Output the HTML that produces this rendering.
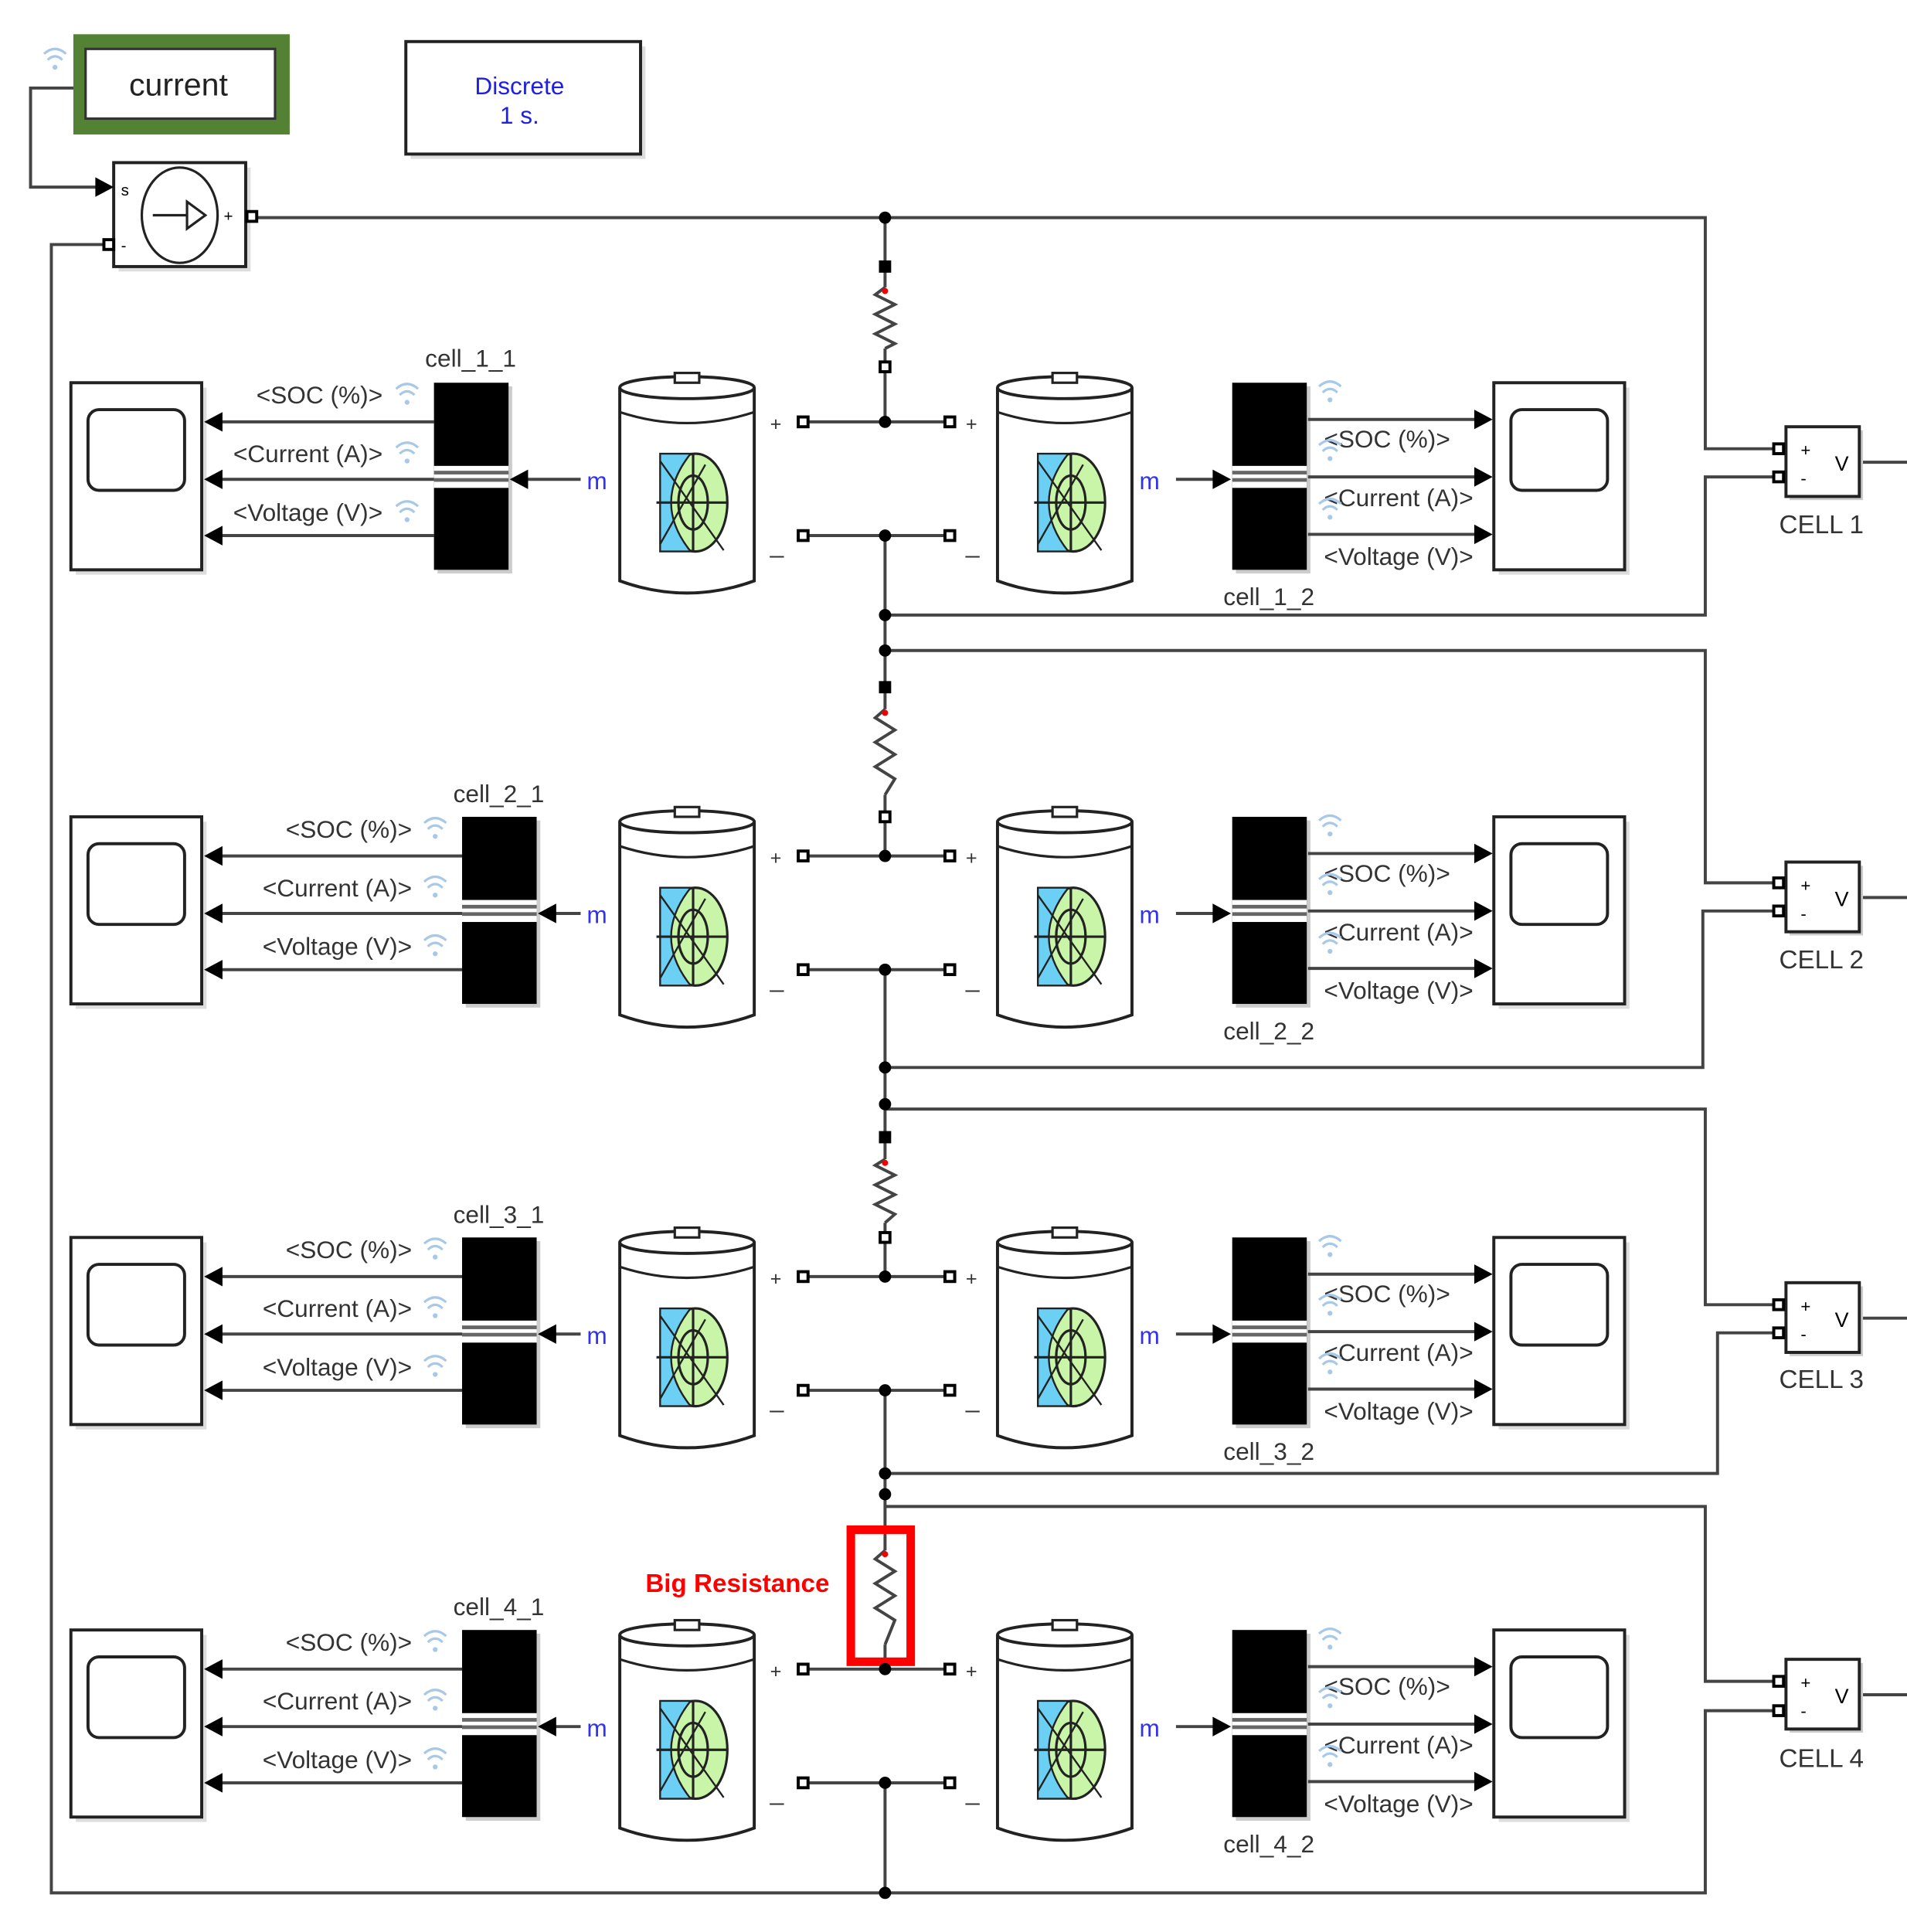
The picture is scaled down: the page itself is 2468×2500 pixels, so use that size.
<!DOCTYPE html>
<html><head><meta charset="utf-8">
<style>
html,body{margin:0;padding:0;background:#fff;}
svg{display:block;}
text{font-family:"Liberation Sans",sans-serif;}
</style></head>
<body>
<svg width="2468" height="2500" viewBox="0 0 1560 1580" preserveAspectRatio="none" xmlns="http://www.w3.org/2000/svg">
<defs>
<g id="scope">
  <rect x="4" y="4" width="107" height="153" fill="#ddd"/>
  <rect x="0" y="0" width="107" height="153" fill="#fff" stroke="#222" stroke-width="2.5"/>
  <rect x="14" y="22" width="79" height="66" rx="9" fill="#fff" stroke="#222" stroke-width="2.5"/>
</g>
<g id="bus">
  <rect x="3" y="3" width="61" height="153" fill="#ccc"/>
  <rect x="0" y="0" width="61" height="153" fill="#000"/>
  <rect x="0" y="68" width="61" height="18" fill="#fff"/>
  <rect x="0" y="72" width="61" height="3" fill="#666"/>
  <rect x="0" y="78" width="61" height="3" fill="#666"/>
</g>
<g id="batt">
  <path d="M0,12 L0,170 Q55,190 110,170 L110,12" fill="#fff" stroke="#222" stroke-width="2.5"/>
  <ellipse cx="55" cy="12" rx="55" ry="9" fill="#fff" stroke="#222" stroke-width="2.5"/>
  <rect x="45" y="0" width="20" height="8" fill="#fff" stroke="#222" stroke-width="2"/>
  <path d="M0,32 Q55,50 110,32" fill="none" stroke="#222" stroke-width="2"/>
  <ellipse cx="62" cy="106" rx="26" ry="40" fill="#c8f5a8" stroke="#222" stroke-width="2"/>
  <path d="M33,66 L33,146 L58,146 Q42,126 42,106 Q42,86 58,66 Z" fill="#6cd0f5" stroke="#222" stroke-width="1.5"/>
  <ellipse cx="60" cy="106" rx="12" ry="22" fill="none" stroke="#222" stroke-width="2"/>
  <line x1="60" y1="66" x2="60" y2="146" stroke="#222" stroke-width="2"/>
  <line x1="30" y1="106" x2="88" y2="106" stroke="#222" stroke-width="2"/>
  <line x1="33" y1="72" x2="85" y2="145" stroke="#222" stroke-width="1.5"/>
  <line x1="33" y1="140" x2="70" y2="75" stroke="#222" stroke-width="1.5"/>
</g>
<g id="wl" fill="none" stroke="#a8c8e8" stroke-width="2">
  <path d="M-9,-6 Q0,-14 9,-6"/><path d="M-6,-1 Q0,-7 6,-1"/><circle cx="0" cy="5" r="2" fill="#a8c8e8" stroke="none"/>
</g>
<g id="cellv">
  <rect x="3" y="3" width="60" height="57" fill="#ccc"/>
  <rect x="0" y="0" width="60" height="57" fill="#fff" stroke="#222" stroke-width="2.5"/>
  <text x="12" y="24" font-size="14">+</text>
  <text x="12" y="47" font-size="14">-</text>
  <text x="40" y="36" font-size="17">V</text>
</g>
<g id="pt"><rect x="-4" y="-4" width="8" height="8" fill="#fff" stroke="#000" stroke-width="2.5"/></g>
</defs>

<g stroke="#444" stroke-width="2.5" fill="none">
  <polyline points="62,72 25,72 25,153 80,153"/>
  <polyline points="93,200 42,200 42,1548 1395,1548 1395,1399 1455,1399"/>
  <polyline points="205,178 1395,178 1395,367 1455,367"/>
  <polyline points="724,503 1395,503 1395,390 1455,390"/>
  <polyline points="724,532 1395,532 1395,722 1455,722"/>
  <polyline points="724,873 1393,873 1393,745 1455,745"/>
  <polyline points="724,907 1395,907 1395,1067 1455,1067"/>
  <polyline points="724,1205 1405,1205 1405,1090 1455,1090"/>
  <polyline points="724,1232 1395,1232 1395,1375 1455,1375"/>
  <line x1="724" y1="178" x2="724" y2="235"/><line x1="724" y1="285" x2="724" y2="345"/>
  <line x1="724" y1="438" x2="724" y2="580"/><line x1="724" y1="650" x2="724" y2="700"/>
  <line x1="724" y1="793" x2="724" y2="948"/><line x1="724" y1="1000" x2="724" y2="1044"/>
  <line x1="724" y1="1137" x2="724" y2="1268"/><line x1="724" y1="1345" x2="724" y2="1365"/>
  <line x1="724" y1="1458" x2="724" y2="1548"/>
  <polyline points="724,235 716,241 732,249 716,257 732,265 716,273 732,281 724,285"/>
  <polyline points="724,580 716,587 732,597 716,607 732,617 716,627 732,637 724,650"/>
  <polyline points="724,948 716,953 732,961 716,969 732,977 716,985 732,993 724,1000"/>
  <polyline points="724,1268 716,1275 732,1285 716,1295 732,1305 716,1315 732,1325 724,1345"/>
  <line x1="1521" y1="378" x2="1560" y2="378"/><line x1="1521" y1="734" x2="1560" y2="734"/>
  <line x1="1521" y1="1078" x2="1560" y2="1078"/><line x1="1521" y1="1386" x2="1560" y2="1386"/>
</g>
<g fill="#e00"><circle cx="724" cy="238" r="2.5"/><circle cx="724" cy="583" r="2.5"/><circle cx="724" cy="951" r="2.5"/><circle cx="724" cy="1271" r="2.5"/></g>
<g fill="#000">
  <rect x="719" y="213" width="10" height="10"/><rect x="719" y="557" width="10" height="10"/><rect x="719" y="925" width="10" height="10"/>
  <circle cx="724" cy="178" r="5"/><circle cx="724" cy="503" r="5"/><circle cx="724" cy="532" r="5"/>
  <circle cx="724" cy="873" r="5"/><circle cx="724" cy="903" r="5"/><circle cx="724" cy="1205" r="5"/><circle cx="724" cy="1222" r="5"/><circle cx="724" cy="1548" r="5"/>
</g>
<use href="#pt" x="724" y="300"/><use href="#pt" x="724" y="668"/><use href="#pt" x="724" y="1012"/>

<rect x="696" y="1251" width="49" height="108" fill="none" stroke="#f00" stroke-width="7"/>
<text x="528" y="1302" font-size="21" font-weight="bold" fill="#f00" font-family="DejaVu Sans,sans-serif">Big Resistance</text>

<use href="#wl" x="45" y="50"/>
<rect x="60" y="28" width="177" height="82" fill="#548235"/>
<rect x="70" y="40" width="155" height="57" fill="#fff" stroke="#333" stroke-width="2"/>
<text x="146" y="78" font-size="26" text-anchor="middle" fill="#222">current</text>
<rect x="336" y="38" width="192" height="92" fill="#ddd"/>
<rect x="332" y="34" width="192" height="92" fill="#fff" stroke="#222" stroke-width="2.5"/>
<text x="425" y="77" font-size="20" text-anchor="middle" fill="#2020e0">Discrete</text>
<text x="425" y="101" font-size="20" text-anchor="middle" fill="#2020e0">1 s.</text>
<rect x="97" y="137" width="108" height="85" fill="#ddd"/>
<rect x="93" y="133" width="108" height="85" fill="#fff" stroke="#222" stroke-width="2.5"/>
<ellipse cx="147" cy="176" rx="31" ry="39" fill="none" stroke="#222" stroke-width="2"/>
<line x1="125" y1="176" x2="153" y2="176" stroke="#222" stroke-width="2"/>
<path d="M153,165 L168,176 L153,187 Z" fill="#fff" stroke="#222" stroke-width="2"/>
<text x="99" y="160" font-size="13">s</text><text x="183" y="181" font-size="13">+</text><text x="99" y="205" font-size="13">-</text>
<path d="M78,145 L93,153 L78,161 Z" fill="#000"/>
<use href="#pt" x="206" y="177"/><use href="#pt" x="89" y="200"/>

<use href="#cellv" x="1461" y="349"/><use href="#cellv" x="1461" y="705"/><use href="#cellv" x="1461" y="1049"/><use href="#cellv" x="1461" y="1357"/>
<use href="#pt" x="1455" y="367"/><use href="#pt" x="1455" y="390"/>
<use href="#pt" x="1455" y="722"/><use href="#pt" x="1455" y="745"/>
<use href="#pt" x="1455" y="1067"/><use href="#pt" x="1455" y="1090"/>
<use href="#pt" x="1455" y="1375"/><use href="#pt" x="1455" y="1399"/>
<g font-size="21" fill="#333" text-anchor="middle">
<text x="1490" y="436">CELL 1</text><text x="1490" y="792">CELL 2</text><text x="1490" y="1135">CELL 3</text><text x="1490" y="1445">CELL 4</text>
</g>

<!-- ROW 1 -->
<g>
<use href="#scope" x="58" y="313"/><use href="#bus" x="355" y="313"/>
<use href="#batt" x="507" y="305"/><use href="#batt" x="816" y="305"/>
<use href="#bus" x="1008" y="313"/><use href="#scope" x="1222" y="313"/>
<g stroke="#444" stroke-width="2.5">
<line x1="355" y1="345" x2="180" y2="345"/><line x1="355" y1="392" x2="180" y2="392"/><line x1="355" y1="438" x2="180" y2="438"/>
<line x1="475" y1="392" x2="430" y2="392"/><line x1="962" y1="392" x2="995" y2="392"/>
<line x1="1070" y1="343" x2="1208" y2="343"/><line x1="1070" y1="390" x2="1208" y2="390"/><line x1="1070" y1="437" x2="1208" y2="437"/>
<line x1="661" y1="345" x2="773" y2="345"/><line x1="661" y1="438" x2="773" y2="438"/>
</g>
<g fill="#000">
<path d="M167,345 L182,337 L182,353Z"/><path d="M167,392 L182,384 L182,400Z"/><path d="M167,438 L182,430 L182,446Z"/>
<path d="M417,392 L432,384 L432,400Z"/><path d="M1007,392 L992,384 L992,400Z"/>
<path d="M1221,343 L1206,335 L1206,351Z"/><path d="M1221,390 L1206,382 L1206,398Z"/><path d="M1221,437 L1206,429 L1206,445Z"/>
<circle cx="724" cy="345" r="5"/><circle cx="724" cy="438" r="5"/>
</g>
<use href="#pt" x="657" y="345"/><use href="#pt" x="777" y="345"/><use href="#pt" x="657" y="438"/><use href="#pt" x="777" y="438"/>
<g font-size="20" fill="#333">
<text x="313" y="330" text-anchor="end">&lt;SOC (%)&gt;</text><text x="313" y="378" text-anchor="end">&lt;Current (A)&gt;</text><text x="313" y="426" text-anchor="end">&lt;Voltage (V)&gt;</text>
<text x="1083" y="366">&lt;SOC (%)&gt;</text><text x="1083" y="414">&lt;Current (A)&gt;</text><text x="1083" y="462">&lt;Voltage (V)&gt;</text>
<text x="385" y="300" text-anchor="middle">cell_1_1</text><text x="1038" y="495" text-anchor="middle">cell_1_2</text>
<text x="630" y="352" font-size="16">+</text><text x="790" y="352" font-size="16">+</text><text x="630" y="452">_</text><text x="790" y="452">_</text>
</g>
<text x="480" y="400" font-size="20" fill="#3333ee">m</text><text x="932" y="400" font-size="20" fill="#3333ee">m</text>
<use href="#wl" x="333" y="324"/><use href="#wl" x="333" y="372"/><use href="#wl" x="333" y="420"/>
<use href="#wl" x="1088" y="322"/><use href="#wl" x="1088" y="370"/><use href="#wl" x="1088" y="418"/>
</g>

<!-- ROW 2 -->
<g>
<use href="#scope" x="58" y="668"/><use href="#bus" x="378" y="668"/>
<use href="#batt" x="507" y="660"/><use href="#batt" x="816" y="660"/>
<use href="#bus" x="1008" y="668"/><use href="#scope" x="1222" y="668"/>
<g stroke="#444" stroke-width="2.5">
<line x1="378" y1="700" x2="180" y2="700"/><line x1="378" y1="747" x2="180" y2="747"/><line x1="378" y1="793" x2="180" y2="793"/>
<line x1="475" y1="747" x2="453" y2="747"/><line x1="962" y1="747" x2="995" y2="747"/>
<line x1="1070" y1="698" x2="1208" y2="698"/><line x1="1070" y1="745" x2="1208" y2="745"/><line x1="1070" y1="792" x2="1208" y2="792"/>
<line x1="661" y1="700" x2="773" y2="700"/><line x1="661" y1="793" x2="773" y2="793"/>
</g>
<g fill="#000">
<path d="M167,700 L182,692 L182,708Z"/><path d="M167,747 L182,739 L182,755Z"/><path d="M167,793 L182,785 L182,801Z"/>
<path d="M440,747 L455,739 L455,755Z"/><path d="M1007,747 L992,739 L992,755Z"/>
<path d="M1221,698 L1206,690 L1206,706Z"/><path d="M1221,745 L1206,737 L1206,753Z"/><path d="M1221,792 L1206,784 L1206,800Z"/>
<circle cx="724" cy="700" r="5"/><circle cx="724" cy="793" r="5"/>
</g>
<use href="#pt" x="657" y="700"/><use href="#pt" x="777" y="700"/><use href="#pt" x="657" y="793"/><use href="#pt" x="777" y="793"/>
<g font-size="20" fill="#333">
<text x="337" y="685" text-anchor="end">&lt;SOC (%)&gt;</text><text x="337" y="733" text-anchor="end">&lt;Current (A)&gt;</text><text x="337" y="781" text-anchor="end">&lt;Voltage (V)&gt;</text>
<text x="1083" y="721">&lt;SOC (%)&gt;</text><text x="1083" y="769">&lt;Current (A)&gt;</text><text x="1083" y="817">&lt;Voltage (V)&gt;</text>
<text x="408" y="656" text-anchor="middle">cell_2_1</text><text x="1038" y="850" text-anchor="middle">cell_2_2</text>
<text x="630" y="707" font-size="16">+</text><text x="790" y="707" font-size="16">+</text><text x="630" y="807">_</text><text x="790" y="807">_</text>
</g>
<text x="480" y="755" font-size="20" fill="#3333ee">m</text><text x="932" y="755" font-size="20" fill="#3333ee">m</text>
<use href="#wl" x="356" y="679"/><use href="#wl" x="356" y="727"/><use href="#wl" x="356" y="775"/>
<use href="#wl" x="1088" y="677"/><use href="#wl" x="1088" y="725"/><use href="#wl" x="1088" y="773"/>
</g>

<!-- ROW 3 -->
<g>
<use href="#scope" x="58" y="1012"/><use href="#bus" x="378" y="1012"/>
<use href="#batt" x="507" y="1004"/><use href="#batt" x="816" y="1004"/>
<use href="#bus" x="1008" y="1012"/><use href="#scope" x="1222" y="1012"/>
<g stroke="#444" stroke-width="2.5">
<line x1="378" y1="1044" x2="180" y2="1044"/><line x1="378" y1="1091" x2="180" y2="1091"/><line x1="378" y1="1137" x2="180" y2="1137"/>
<line x1="475" y1="1091" x2="453" y2="1091"/><line x1="962" y1="1091" x2="995" y2="1091"/>
<line x1="1070" y1="1042" x2="1208" y2="1042"/><line x1="1070" y1="1089" x2="1208" y2="1089"/><line x1="1070" y1="1136" x2="1208" y2="1136"/>
<line x1="661" y1="1044" x2="773" y2="1044"/><line x1="661" y1="1137" x2="773" y2="1137"/>
</g>
<g fill="#000">
<path d="M167,1044 L182,1036 L182,1052Z"/><path d="M167,1091 L182,1083 L182,1099Z"/><path d="M167,1137 L182,1129 L182,1145Z"/>
<path d="M440,1091 L455,1083 L455,1099Z"/><path d="M1007,1091 L992,1083 L992,1099Z"/>
<path d="M1221,1042 L1206,1034 L1206,1050Z"/><path d="M1221,1089 L1206,1081 L1206,1097Z"/><path d="M1221,1136 L1206,1128 L1206,1144Z"/>
<circle cx="724" cy="1044" r="5"/><circle cx="724" cy="1137" r="5"/>
</g>
<use href="#pt" x="657" y="1044"/><use href="#pt" x="777" y="1044"/><use href="#pt" x="657" y="1137"/><use href="#pt" x="777" y="1137"/>
<g font-size="20" fill="#333">
<text x="337" y="1029" text-anchor="end">&lt;SOC (%)&gt;</text><text x="337" y="1077" text-anchor="end">&lt;Current (A)&gt;</text><text x="337" y="1125" text-anchor="end">&lt;Voltage (V)&gt;</text>
<text x="1083" y="1065">&lt;SOC (%)&gt;</text><text x="1083" y="1113">&lt;Current (A)&gt;</text><text x="1083" y="1161">&lt;Voltage (V)&gt;</text>
<text x="408" y="1000" text-anchor="middle">cell_3_1</text><text x="1038" y="1194" text-anchor="middle">cell_3_2</text>
<text x="630" y="1051" font-size="16">+</text><text x="790" y="1051" font-size="16">+</text><text x="630" y="1151">_</text><text x="790" y="1151">_</text>
</g>
<text x="480" y="1099" font-size="20" fill="#3333ee">m</text><text x="932" y="1099" font-size="20" fill="#3333ee">m</text>
<use href="#wl" x="356" y="1023"/><use href="#wl" x="356" y="1071"/><use href="#wl" x="356" y="1119"/>
<use href="#wl" x="1088" y="1021"/><use href="#wl" x="1088" y="1069"/><use href="#wl" x="1088" y="1117"/>
</g>

<!-- ROW 4 -->
<g>
<use href="#scope" x="58" y="1333"/><use href="#bus" x="378" y="1333"/>
<use href="#batt" x="507" y="1325"/><use href="#batt" x="816" y="1325"/>
<use href="#bus" x="1008" y="1333"/><use href="#scope" x="1222" y="1333"/>
<g stroke="#444" stroke-width="2.5">
<line x1="378" y1="1365" x2="180" y2="1365"/><line x1="378" y1="1412" x2="180" y2="1412"/><line x1="378" y1="1458" x2="180" y2="1458"/>
<line x1="475" y1="1412" x2="453" y2="1412"/><line x1="962" y1="1412" x2="995" y2="1412"/>
<line x1="1070" y1="1363" x2="1208" y2="1363"/><line x1="1070" y1="1410" x2="1208" y2="1410"/><line x1="1070" y1="1457" x2="1208" y2="1457"/>
<line x1="661" y1="1365" x2="773" y2="1365"/><line x1="661" y1="1458" x2="773" y2="1458"/>
</g>
<g fill="#000">
<path d="M167,1365 L182,1357 L182,1373Z"/><path d="M167,1412 L182,1404 L182,1420Z"/><path d="M167,1458 L182,1450 L182,1466Z"/>
<path d="M440,1412 L455,1404 L455,1420Z"/><path d="M1007,1412 L992,1404 L992,1420Z"/>
<path d="M1221,1363 L1206,1355 L1206,1371Z"/><path d="M1221,1410 L1206,1402 L1206,1418Z"/><path d="M1221,1457 L1206,1449 L1206,1465Z"/>
<circle cx="724" cy="1365" r="5"/><circle cx="724" cy="1458" r="5"/>
</g>
<use href="#pt" x="657" y="1365"/><use href="#pt" x="777" y="1365"/><use href="#pt" x="657" y="1458"/><use href="#pt" x="777" y="1458"/>
<g font-size="20" fill="#333">
<text x="337" y="1350" text-anchor="end">&lt;SOC (%)&gt;</text><text x="337" y="1398" text-anchor="end">&lt;Current (A)&gt;</text><text x="337" y="1446" text-anchor="end">&lt;Voltage (V)&gt;</text>
<text x="1083" y="1386">&lt;SOC (%)&gt;</text><text x="1083" y="1434">&lt;Current (A)&gt;</text><text x="1083" y="1482">&lt;Voltage (V)&gt;</text>
<text x="408" y="1321" text-anchor="middle">cell_4_1</text><text x="1038" y="1515" text-anchor="middle">cell_4_2</text>
<text x="630" y="1372" font-size="16">+</text><text x="790" y="1372" font-size="16">+</text><text x="630" y="1472">_</text><text x="790" y="1472">_</text>
</g>
<text x="480" y="1420" font-size="20" fill="#3333ee">m</text><text x="932" y="1420" font-size="20" fill="#3333ee">m</text>
<use href="#wl" x="356" y="1344"/><use href="#wl" x="356" y="1392"/><use href="#wl" x="356" y="1440"/>
<use href="#wl" x="1088" y="1342"/><use href="#wl" x="1088" y="1390"/><use href="#wl" x="1088" y="1438"/>
</g>
</svg>
</body></html>
